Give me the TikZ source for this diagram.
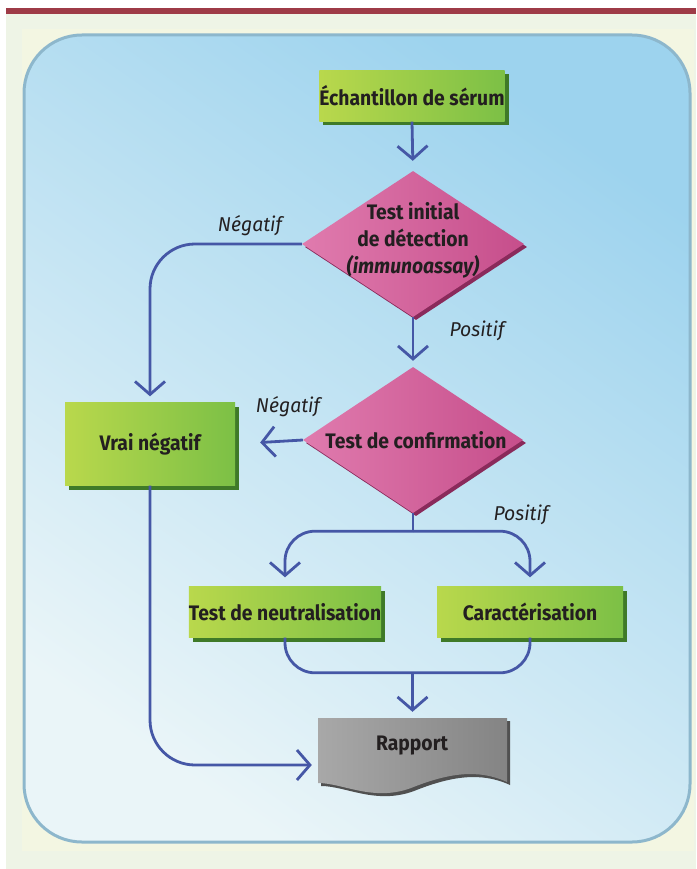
\documentclass[tikz,border=0pt]{standalone}
\usepackage{fontspec}
\setmainfont{Fira Sans}
\newfontfamily\boxfont[FakeStretch=0.92]{Fira Sans}
\newfontfamily\labfont[FakeStretch=0.97]{Fira Sans}
\usetikzlibrary{shapes.geometric,arrows.meta,shadows,calc}
\definecolor{maroon}{HTML}{9E3B47}
\definecolor{panel}{HTML}{EEF4E6}
\definecolor{innerpale}{HTML}{F3F6E2}
\definecolor{bgtop}{HTML}{9DD3EE}
\definecolor{bgbot}{HTML}{EAF5F8}
\definecolor{bgedge}{HTML}{8DB7CC}
\definecolor{gL}{HTML}{B9D84C}
\definecolor{gR}{HTML}{7CC046}
\definecolor{gS}{HTML}{3F7A28}
\definecolor{pL}{HTML}{E07BAE}
\definecolor{pR}{HTML}{C64E8B}
\definecolor{pS}{HTML}{8A2A5B}
\definecolor{grL}{HTML}{A8A8A8}
\definecolor{grR}{HTML}{848484}
\definecolor{grS}{HTML}{505050}
\definecolor{lineblue}{HTML}{4557A6}
\definecolor{ink}{HTML}{231F20}
\begin{document}
\begin{tikzpicture}[x=1pt,y=-1pt,
  greenbox/.style={rectangle, inner sep=0pt, left color=gL, right color=gR,
    drop shadow={shadow xshift=4pt, shadow yshift=-4pt, fill=gS, opacity=1},
    font=\boxfont\bfseries\fontsize{21}{25}\selectfont, text=ink},
  decision/.style={diamond, inner sep=0pt, left color=pL, right color=pR,
    drop shadow={shadow xshift=3pt, shadow yshift=-3pt, fill=pS, opacity=1}},
  dtext/.style={font=\boxfont\bfseries\fontsize{21}{27}\selectfont, text=ink, align=center},
  lab/.style={font=\labfont\itshape\fontsize{20}{24}\selectfont, text=ink},
  conn/.style={draw=lineblue, line width=2.8pt},
  arr/.style={conn, -{Straight Barb[length=13pt,width=30pt]}}
]
\useasboundingbox (0,0) rectangle (696,869);
\fill[white] (0,0) rectangle (696,869);
\fill[panel] (6,14) rectangle (696,869);
\fill[maroon] (6,8) rectangle (696,14);
\fill[innerpale] (22,29) rectangle (694,851);
\shade[rounded corners=58pt, top color=bgtop, bottom color=bgbot, shading angle=-35,
  draw=bgedge, line width=3pt] (24,35) rectangle (690,842);

% nodes
\node[greenbox, minimum width=185pt, minimum height=51pt] (ech) at (412,96) {Échantillon de sérum};
\node[decision, minimum width=222pt, minimum height=146pt] (d1) at (413,244) {};
\node[dtext] (d1t) at (413,240) {Test initial\\de détection\\\textit{(immunoassay)}};
\node[decision, minimum width=220pt, minimum height=146pt] (d2) at (413,440) {};
\node[dtext] (d2t) at (416,440) {Test de confirmation};
\node[greenbox, minimum width=170pt, minimum height=83pt] (vn) at (150,444) {Vrai négatif};
\node[greenbox, minimum width=186pt, minimum height=51pt] (tn) at (285,612) {Test de neutralisation};
\node[greenbox, minimum width=186pt, minimum height=51pt] (car) at (530,612) {Caractérisation};

% Rapport document shape
\fill[grS] ($(318,718)+(3,3)$) -- ++(189,0) -- ++(0,64)
  .. controls +(-30,-14) and +(35,-14) .. ++(-96,6)
  .. controls +(-38,14) and +(25,0) .. ++(-93,-5) -- cycle;
\shade[left color=grL, right color=grR] (318,718) -- (507,718) -- (507,782)
  .. controls (477,768) and (446,774) .. (411,788)
  .. controls (373,802) and (343,783) .. (318,783) -- cycle;
\node[minimum width=189pt, minimum height=64pt, inner sep=0pt] (rap) at (412.5,750) {};
\node[font=\boxfont\bfseries\fontsize{21}{25}\selectfont, text=ink] (rapt) at (412,746) {Rapport};

% connectors
\draw[arr, shorten >=10pt] (ech.south) -- (d1.north);
\draw[arr, shorten >=6pt] (d1.south) -- (d2.north);
\draw[arr, rounded corners=45pt, shorten >=6pt] (d1.west) -| (vn.north);
\draw[arr, shorten >=25pt] (d2.west) -- (vn.east);
\draw[arr, rounded corners=45pt, shorten >=6pt] (vn.south) |- ($(rap.west)+(0,15)$);
\coordinate (split) at ($(d2.south)+(0,18)$);
\draw[conn] (d2.south) -- (split);
\draw[arr, rounded corners=30pt, shorten >=9pt] (split) -| (tn.north);
\draw[arr, rounded corners=30pt, shorten >=9pt] (split) -| (car.north);
\coordinate (merge) at ($(rap.north)+(0,-45)$);
\draw[conn, rounded corners=30pt] (tn.south) |- (merge) -| (car.south);
\draw[arr, shorten >=6pt] (merge) -- (rap.north);

% labels
\node[lab] (l1) at (250,226) {Négatif};
\node[lab] (l2) at (477,331) {Positif};
\node[lab] (l3) at (288,407) {Négatif};
\node[lab] (l4) at (521,515) {Positif};
\end{tikzpicture}
\end{document}
